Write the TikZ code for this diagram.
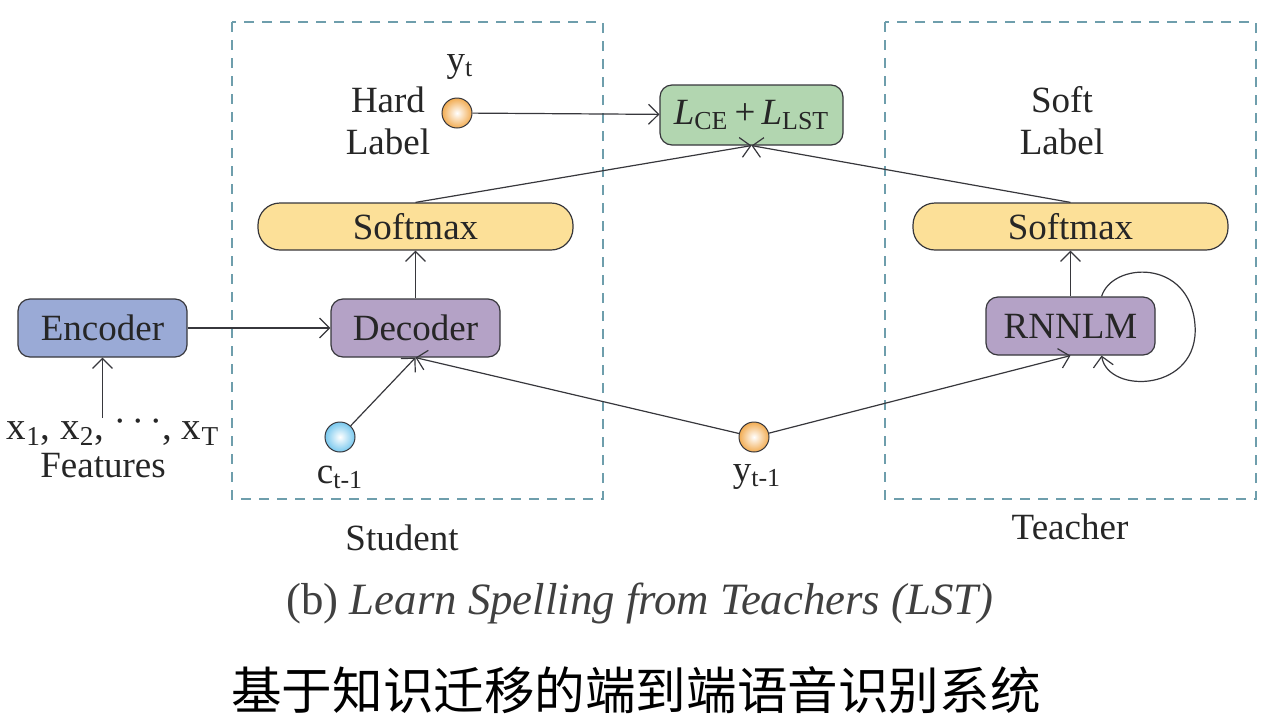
\documentclass[tikz,border=0pt]{standalone}
\usepackage{fontspec}
\setmainfont{Liberation Serif}
\newfontfamily\cjk{Noto Sans CJK SC}
\usetikzlibrary{arrows.meta}
\definecolor{encfill}{RGB}{154,170,214}
\definecolor{decfill}{RGB}{180,162,198}
\definecolor{smfill}{RGB}{252,224,152}
\definecolor{lossfill}{RGB}{178,214,176}
\definecolor{framecol}{RGB}{110,158,172}
\definecolor{edgecol}{RGB}{55,55,60}
\definecolor{ballorange}{RGB}{242,172,82}
\definecolor{ballblue}{RGB}{120,200,238}

\begin{document}
\begin{tikzpicture}[x=0.5pt,y=-0.5pt,
  txt/.style={font=\fontsize{18.5}{21}\selectfont, text=black!85},
  block/.style={txt, draw=edgecol, line width=0.6pt, rounded corners=6pt,
    minimum width=84.5pt, minimum height=29pt, inner sep=0pt},
  softbox/.style={block, fill=smfill, rounded corners=11pt,
    minimum width=157.5pt, minimum height=23.5pt},
  token/.style={circle, draw=edgecol, line width=0.5pt, minimum size=15pt, inner sep=0pt},
  frame/.style={draw=framecol, line width=0.7pt, dash pattern=on 5pt off 4pt},
  link/.style={draw=edgecol, line width=0.6pt, -{Straight Barb[length=5pt,width=10pt]}}]
  \useasboundingbox (0,0) rectangle (1282,724);
  % student and teacher frames
  \draw[frame] (232,22) rectangle (603,499);
  \draw[frame] (885,22) rectangle (1256,499);
  % blocks
  \node[block, fill=encfill] (enc) at (102.5,328) {Encoder};
  \node[block, fill=decfill] (dec) at (415.5,328) {Decoder};
  \node[block, fill=decfill] (rnn) at (1070.5,326) {RNNLM};
  \node[softbox] (smS) at (415.5,226.5) {Softmax};
  \node[softbox] (smT) at (1070.5,226.5) {Softmax};
  \node[block, fill=lossfill, minimum width=91.5pt, minimum height=30pt] (loss) at (751.5,115)
    {\textit{L}\textsubscript{CE}\,+\,\textit{L}\textsubscript{LST}};
  % tokens
  \node[token, inner color=white, outer color=ballorange] (yt) at (457,113) {};
  \node[token, inner color=white, outer color=ballblue] (ctm) at (340,437) {};
  \node[token, inner color=white, outer color=ballorange] (ytm) at (754,437) {};
  % labels
  \node[txt] (ytlab) at (460,67) {y\textsubscript{t}};
  \node[txt, align=center] (hard) at (388,121) {Hard\\Label};
  \node[txt, align=center] (soft) at (1062,121) {Soft\\Label};
  \node[txt, font=\fontsize{19.5}{21}\selectfont, inner sep=0pt] (feat) at (113,429)
    {x\textsubscript{1}, x\textsubscript{2}, \raisebox{0.45ex}{$\cdots$}, x\textsubscript{T}};
  \node[txt, inner sep=0pt] (featlab) at (103,466) {Features};
  \node[txt] (ctmlab) at (340,477) {c\textsubscript{t-1}};
  \node[txt] (ytmlab) at (757,477) {y\textsubscript{t-1}};
  \node[txt] (student) at (402,538) {Student};
  \node[txt] (teacher) at (1070,527) {Teacher};
  \node[font=\fontsize{22.4}{26}\selectfont, text=black!75] (caption) at (640,603)
    {(b) \textit{Learn Spelling from Teachers (LST)}};
  \node[font=\cjk\fontsize{25.3}{30}\selectfont] (title) at (636,690)
    {基于知识迁移的端到端语音识别系统};
  % connectors
  \draw[link] ([yshift=-3pt]feat.north -| enc.south) -- (enc);
  \draw[link] (enc) -- (dec);
  \draw[link] (dec) -- (smS);
  \draw[link] (ctm) -- (dec.south);
  \draw[link] (ytm) -- (dec.south);
  \draw[link] (ytm) -- (rnn.south);
  \draw[link] (rnn) -- (smT);
  \draw[link] (smS.north) -- (loss.south);
  \draw[link] (smT.north) -- (loss.south);
  \draw[link] (yt) -- (loss);
  \draw[link] ([xshift=-27pt]rnn.north east) .. controls (1112,262) and (1190,258) .. (1195,325)
    .. controls (1200,392) and (1108,395) .. ([xshift=-27pt]rnn.south east);
\end{tikzpicture}
\end{document}
